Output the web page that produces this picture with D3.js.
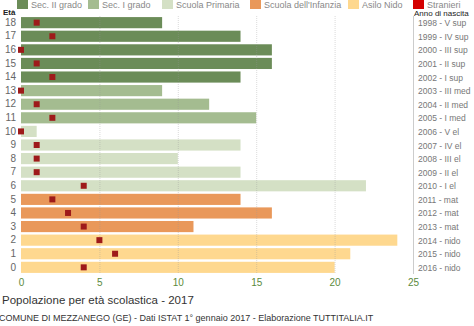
<!DOCTYPE html>
<html>
<head>
<meta charset="utf-8">
<script src="https://cdn.jsdelivr.net/npm/d3@7"></script>
<style>
  body { margin: 0; background: #fff; }
  svg { display: block; font-family: "Liberation Sans", Arial, sans-serif; }
</style>
</head>
<body>
<svg id="chart" width="474" height="326"></svg>
<script>
// region data
const ages = [18, 17, 16, 15, 14, 13, 12, 11, 10, 9, 8, 7, 6, 5, 4, 3, 2, 1, 0];
const totals = [9, 14, 16, 16, 14, 9, 12, 15, 1, 14, 10, 14, 22, 14, 16, 11, 24, 21, 20];
const stranieri = [1, 2, 0, 1, 2, 0, 1, 2, 0, 1, 1, 1, 4, 2, 3, 4, 5, 6, 4];
const birthLabels = ['1998 - V sup', '1999 - IV sup', '2000 - III sup', '2001 - II sup', '2002 - I sup',
  '2003 - III med', '2004 - II med', '2005 - I med', '2006 - V el', '2007 - IV el', '2008 - III el',
  '2009 - II el', '2010 - I el', '2011 - mat', '2012 - mat', '2013 - mat', '2014 - nido', '2015 - nido', '2016 - nido'];
const schoolOf = ['sup', 'sup', 'sup', 'sup', 'sup', 'med', 'med', 'med', 'el', 'el', 'el', 'el', 'el',
  'mat', 'mat', 'mat', 'nido', 'nido', 'nido'];
const legendNames = ['Sec. II grado', 'Sec. I grado', 'Scuola Primaria', "Scuola dell'Infanzia", 'Asilo Nido', 'Stranieri'];
const xTicks = [0, 5, 10, 15, 20, 25];
// endregion

const colors = {
  sup: '#6b8c58', med: '#a4bc90', el: '#d4e0c5', mat: '#e9985a', nido: '#fed88f'
};
const legendColors = ['#6b8c58', '#a4bc90', '#d4e0c5', '#e9985a', '#fed88f', '#d40000'];

const plot = {left: 21, right: 413, top: 16, bottom: 274};

const svg = d3.select('#chart');

const x = d3.scaleLinear().domain([0, 25]).range([plot.left, plot.right]);
const y = d3.scaleBand().domain(ages).range([plot.top, plot.bottom]).paddingInner(0.18).paddingOuter(0.08);

// bars
svg.append('g')
  .selectAll('rect')
  .data(ages)
  .join('rect')
  .attr('x', x(0))
  .attr('y', d => y(d))
  .attr('width', (d, i) => x(totals[i]) - x(0))
  .attr('height', y.bandwidth())
  .attr('fill', (d, i) => colors[schoolOf[i]]);

// grid
svg.append('g')
  .selectAll('line')
  .data(xTicks.slice(1, -1))
  .join('line')
  .attr('x1', d => x(d) + 0.5).attr('x2', d => x(d) + 0.5)
  .attr('y1', plot.top).attr('y2', plot.bottom)
  .attr('stroke', '#999')
  .attr('stroke-opacity', 0.35)
  .attr('stroke-dasharray', '1,1');

// right border
svg.append('line')
  .attr('x1', plot.right + 0.5).attr('x2', plot.right + 0.5)
  .attr('y1', plot.top).attr('y2', plot.bottom)
  .attr('stroke', '#ccc');

// stranieri markers
svg.append('g')
  .selectAll('rect')
  .data(ages)
  .join('rect')
  .attr('x', (d, i) => x(stranieri[i]) - 3)
  .attr('y', d => y(d) + y.bandwidth() / 2 - 3)
  .attr('width', 6)
  .attr('height', 6)
  .attr('fill', '#9e1a1a');

// left axis
const yAxis = d3.axisLeft(y).tickSize(0).tickPadding(5);
const gy = svg.append('g')
  .attr('transform', 'translate(' + plot.left + ',0)')
  .call(yAxis);
gy.select('.domain').remove();
gy.selectAll('text').attr('fill', '#666').style('font-size', '10px');

// right labels
svg.append('g')
  .selectAll('text')
  .data(ages)
  .join('text')
  .attr('x', 418)
  .attr('y', d => y(d) + y.bandwidth() / 2 + 3.5)
  .attr('fill', '#777')
  .style('font-size', '8.5px')
  .text((d, i) => birthLabels[i]);

// bottom axis
const xAxis = d3.axisBottom(x).tickValues(xTicks).tickSize(0).tickPadding(5);
const gx = svg.append('g')
  .attr('transform', 'translate(0,' + plot.bottom + ')')
  .call(xAxis);
gx.select('.domain').remove();
gx.selectAll('text').attr('fill', '#5b8a3c').style('font-size', '10px');

// axis titles
svg.append('text')
  .attr('x', 3).attr('y', 15)
  .style('font-size', '8px').style('font-weight', 'bold')
  .attr('fill', '#222')
  .text('Età');
svg.append('text')
  .attr('x', 414).attr('y', 16)
  .style('font-size', '8px')
  .attr('fill', '#222')
  .text('Anno di nascita');

// legend
const legendX = [17, 88, 162, 250, 348, 413];
const lg = svg.append('g');
legendNames.forEach((name, i) => {
  lg.append('rect')
    .attr('x', legendX[i]).attr('y', -2)
    .attr('width', 11).attr('height', 11)
    .attr('fill', legendColors[i]);
  lg.append('text')
    .attr('x', legendX[i] + 14).attr('y', 8)
    .style('font-size', '9px')
    .attr('fill', '#888')
    .text(name);
});

// titles
svg.append('text')
  .attr('x', 2).attr('y', 304)
  .style('font-size', '11.5px')
  .attr('fill', '#333')
  .text('Popolazione per età scolastica - 2017');
svg.append('text')
  .attr('x', -1).attr('y', 321)
  .style('font-size', '9px')
  .attr('fill', '#333')
  .text('COMUNE DI MEZZANEGO (GE) - Dati ISTAT 1° gennaio 2017 - Elaborazione TUTTITALIA.IT');
</script>
</body>
</html>
